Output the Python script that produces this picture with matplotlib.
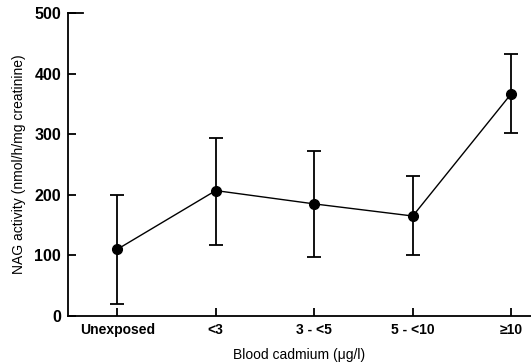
import matplotlib
matplotlib.use("Agg")
from matplotlib import pyplot as plt
import numpy as np

plt.rcParams['font.family'] = ['Liberation Sans', 'DejaVu Sans']

groups = ['Unexposed', '<3', '3 - <5', '5 - <10', '\u226510']
nag_mean = [110, 207, 185, 165, 367]
err_low = [20, 117, 97, 100, 302]
err_high = [200, 293, 272, 231, 433]

fig = plt.figure(figsize=(5.31, 3.64), dpi=100)
ax = fig.add_axes([0.128, 0.132, 0.872, 0.832])

x = np.arange(len(groups))
mean = np.array(nag_mean)
yerr = [mean - np.array(err_low), np.array(err_high) - mean]
ax.errorbar(x, mean, yerr=yerr, fmt='o-', color='black', ms=7, lw=1,
            elinewidth=1.3, capsize=5, capthick=1.3)

ax.set_xlim(-0.5, 4.2)
ax.set_ylim(0, 500)
ax.spines['top'].set_visible(False)
ax.spines['right'].set_visible(False)
ax.spines['left'].set_linewidth(1.3)
ax.spines['bottom'].set_linewidth(1.3)
ax.plot([-0.5, -0.35], [500, 500], color='black', lw=1.3, clip_on=False)

ax.set_xticks(x)
ax.set_xticklabels(groups, fontsize=10, fontweight='bold')
ax.set_yticks([0, 100, 200, 300, 400, 500])
ax.set_yticklabels(['0', '100', '200', '300', '400', '500'], fontsize=11.5, fontweight='bold')
ax.tick_params(axis='both', direction='in', length=6, width=1.3, pad=5)

ax.set_ylabel('NAG activity (nmol/h/mg creatinine)', fontsize=10, labelpad=6)
ax.set_xlabel('Blood cadmium (\u03bcg/l)', fontsize=10, labelpad=8)

fig.savefig('out.png', dpi=100)
